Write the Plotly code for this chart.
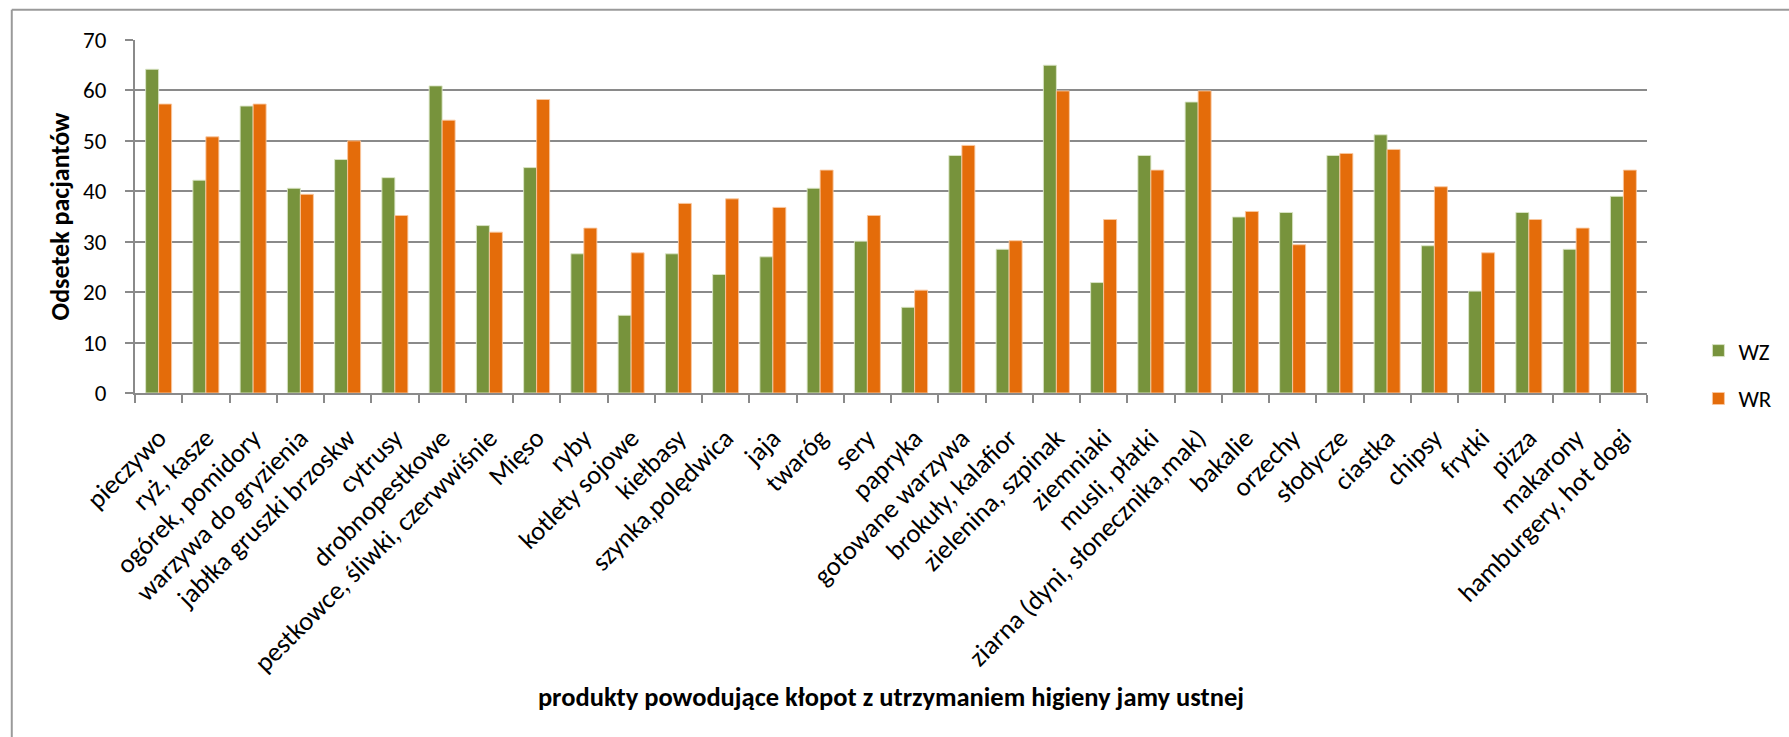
import plotly.graph_objects as go

categories = [
    "pieczywo", "ryż, kasze", "ogórek, pomidory", "warzywa do gryzienia",
    "jabłka gruszki brzoskw", "cytrusy", "drobnopestkowe",
    "pestkowce, śliwki, czerwwiśnie", "Mięso", "ryby", "kotlety sojowe",
    "kiełbasy", "szynka,polędwica", "jaja", "twaróg", "sery", "papryka",
    "gotowane warzywa", "brokuły, kalafior", "zielenina, szpinak",
    "ziemniaki", "musli, płatki", "ziarna (dyni, słonecznika,mak)",
    "bakalie", "orzechy", "słodycze", "ciastka", "chipsy", "frytki",
    "pizza", "makarony", "hamburgery, hot dogi",
]

wz = [64.2, 42.2, 56.9, 40.6, 46.3, 42.7, 60.9, 33.2, 44.7, 27.6, 15.4,
      27.6, 23.5, 27.0, 40.6, 30.1, 17.0, 47.1, 28.5, 65.0, 21.9, 47.1,
      57.7, 34.9, 35.8, 47.1, 51.2, 29.2, 20.2, 35.8, 28.5, 39.0]

wr = [57.3, 50.8, 57.3, 39.4, 50.0, 35.2, 54.1, 31.9, 58.2, 32.7, 27.8,
      37.6, 38.5, 36.8, 44.2, 35.2, 20.4, 49.1, 30.2, 59.9, 34.4, 44.2,
      59.9, 36.0, 29.4, 47.5, 48.3, 40.9, 27.8, 34.4, 32.7, 44.2]

y_ticks = [0, 10, 20, 30, 40, 50, 60, 70]

FONT = "Calibri, Carlito, Lato, sans-serif"
GREEN = "#77933C"
ORANGE = "#E46C0A"
GRID = "#8A8A8A"

fig = go.Figure()
fig.add_trace(go.Bar(
    name="WZ", x=categories, y=wz, legendgroup="wz",
    marker=dict(color=GREEN, line=dict(color="rgba(220,230,200,0.9)", width=1)),
))
fig.add_trace(go.Bar(
    name="WR", x=categories, y=wr, legendgroup="wr",
    marker=dict(color=ORANGE, line=dict(color="rgba(250,200,160,0.9)", width=1)),
))

fig.update_layout(
    width=1789, height=737,
    margin=dict(l=135, r=109, t=40, b=344),
    paper_bgcolor="white", plot_bgcolor="white",
    barmode="group", bargap=0.45, bargroupgap=0,
    font=dict(family=FONT, color="black"),
    showlegend=True,
    legend=dict(
        x=1.034, y=0.052, xanchor="left", yanchor="middle",
        font=dict(family=FONT, size=23, color="black"),
        tracegroupgap=15, bgcolor="rgba(0,0,0,0)",
    ),
    xaxis=dict(
        type="category",
        tickangle=-45,
        tickfont=dict(family=FONT, size=26.5, color="black"),
        showline=True, linecolor=GRID, linewidth=2,
        ticks="outside", tickson="boundaries", ticklen=8, tickcolor=GRID, tickwidth=2,
        showgrid=False,
        ticklabelstandoff=17,
        title=dict(
            text="<b>produkty powodujące kłopot z utrzymaniem higieny jamy ustnej</b>",
            font=dict(family=FONT, size=26.5, color="black"),
            standoff=10,
        ),
        automargin=False,
    ),
    yaxis=dict(
        range=[0, 70],
        tickvals=y_ticks,
        tickfont=dict(family=FONT, size=23, color="black"),
        showline=True, linecolor=GRID, linewidth=2,
        ticks="outside", ticklen=8, tickcolor=GRID, tickwidth=2,
        showgrid=True, gridcolor=GRID, gridwidth=2,
        zeroline=False,
        ticklabelstandoff=14,
        title=dict(
            text="<b>Odsetek pacjantów</b>",
            font=dict(family=FONT, size=26, color="black"),
            standoff=6,
        ),
        automargin=False,
    ),
)

# outer chart frame (top and left edges)
fig.add_shape(type="line", xref="paper", yref="paper",
              x0=-0.0815, x1=1.2, y0=1.0855, y1=1.0855,
              line=dict(color="#9A9A9A", width=2))
fig.add_shape(type="line", xref="paper", yref="paper",
              x0=-0.0815, x1=-0.0815, y0=1.0855, y1=-1.2,
              line=dict(color="#9A9A9A", width=2))

fig.write_html("out.html")
